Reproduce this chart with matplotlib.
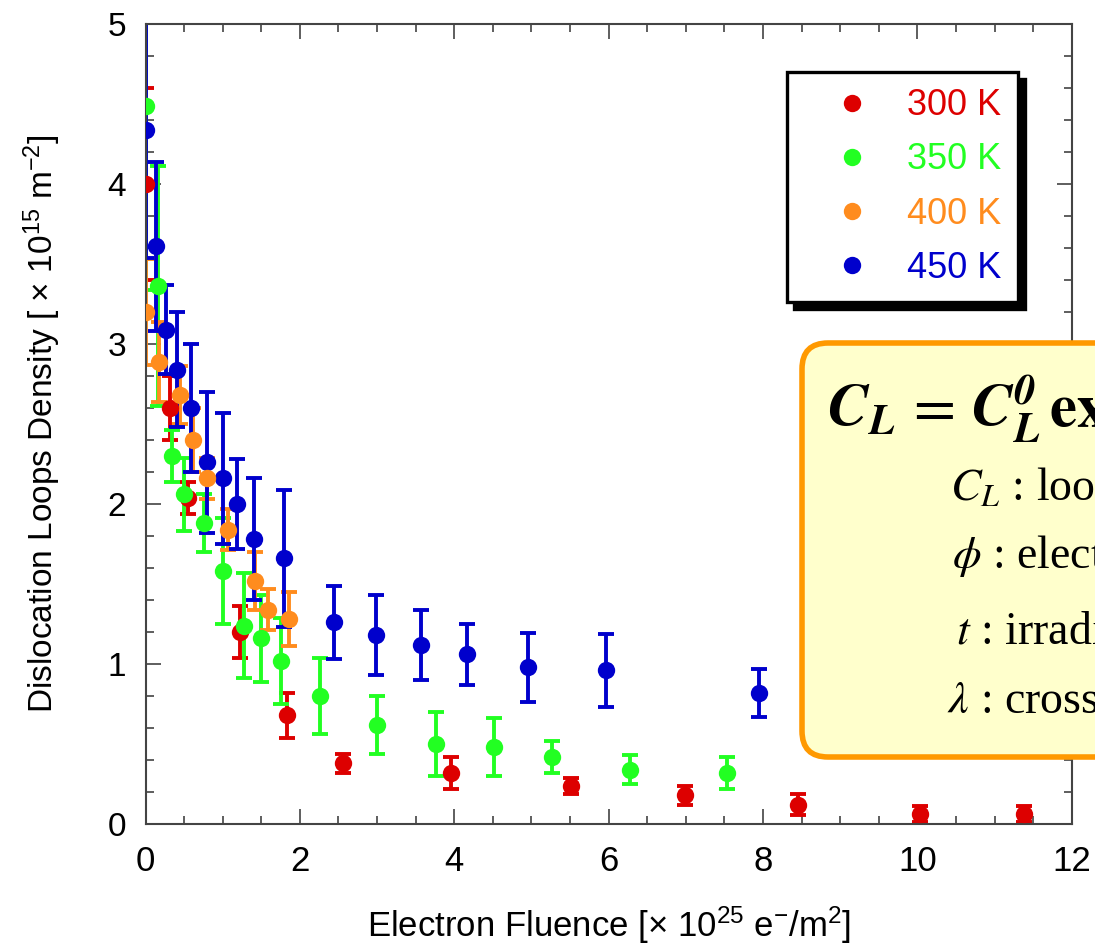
import matplotlib
matplotlib.use("Agg")
import matplotlib.pyplot as plt
from matplotlib.lines import Line2D
from matplotlib.patches import FancyBboxPatch
from matplotlib.ticker import MultipleLocator

# ---- data: electron fluence [x1e25 e-/m2], loop density [x1e15 m-2], error ----
x_300 = [0, 0.32, 0.55, 1.22, 1.83, 2.56, 3.96, 5.51, 6.99, 8.45, 10.04, 11.38]
y_300 = [4.00, 2.60, 2.04, 1.20, 0.68, 0.38, 0.32, 0.24, 0.18, 0.12, 0.06, 0.06]
e_300 = [0.60, 0.20, 0.10, 0.16, 0.14, 0.06, 0.10, 0.05, 0.06, 0.065, 0.05, 0.05]

x_350 = [0, 0.16, 0.34, 0.50, 0.76, 1.00, 1.27, 1.50, 1.76, 2.26, 3.00, 3.76, 4.52, 5.27, 6.28, 7.53]
y_350 = [4.49, 3.36, 2.30, 2.06, 1.88, 1.58, 1.24, 1.16, 1.02, 0.80, 0.62, 0.50, 0.48, 0.42, 0.34, 0.32]
e_350 = [1.15, 0.75, 0.16, 0.23, 0.18, 0.33, 0.33, 0.27, 0.27, 0.24, 0.18, 0.20, 0.18, 0.10, 0.09, 0.10]

x_400 = [0, 0.18, 0.45, 0.62, 0.80, 1.07, 1.42, 1.59, 1.86]
y_400 = [3.20, 2.89, 2.68, 2.40, 2.16, 1.84, 1.52, 1.34, 1.28]
e_400 = [0.33, 0.25, 0.18, 0.20, 0.13, 0.13, 0.18, 0.13, 0.17]

x_450 = [0, 0.13, 0.26, 0.41, 0.59, 0.80, 1.00, 1.19, 1.40, 1.79, 2.44, 2.98, 3.57, 4.17, 4.96, 5.96, 7.95]
y_450 = [4.34, 3.61, 3.09, 2.84, 2.60, 2.26, 2.16, 2.00, 1.78, 1.66, 1.26, 1.18, 1.12, 1.06, 0.98, 0.96, 0.82]
e_450 = [0.80, 0.53, 0.28, 0.36, 0.40, 0.44, 0.41, 0.28, 0.38, 0.43, 0.23, 0.25, 0.22, 0.19, 0.215, 0.23, 0.15]

labels = ["300 K", "350 K", "400 K", "450 K"]
colors = ["#DD0000", "#22FF22", "#FF8C1E", "#0000CC"]

legend_lines = [
    r"$C_{L}$ : loop density",
    r"$\phi$ : electron flux",
    r"$t$ : irradiation time",
    r"$\lambda$ : cross section",
]

plt.rcParams["font.family"] = ["Liberation Sans", "DejaVu Sans"]
plt.rcParams["mathtext.fontset"] = "custom"
plt.rcParams["mathtext.rm"] = "Liberation Sans"
plt.rcParams["mathtext.sf"] = "Liberation Sans"
plt.rcParams["mathtext.it"] = "Liberation Sans:italic"

W, H = 1095, 948
fig = plt.figure(figsize=(W / 100, H / 100), dpi=100)
ax = fig.add_axes([145.5 / W, 1 - 824 / H, (1071.7 - 145.5) / W, (824 - 24) / H])

series = [(x_300, y_300, e_300), (x_350, y_350, e_350),
          (x_400, y_400, e_400), (x_450, y_450, e_450)]

# error bars underneath, markers on top
for (xs, ys, es), c in zip(series, colors):
    ax.errorbar(xs, ys, yerr=es, fmt="none", ecolor=c, elinewidth=2.8,
                capsize=5.5, capthick=2.8, zorder=2)
for i in [3, 0, 2, 1]:
    xs, ys, es = series[i]
    ax.plot(xs, ys, "o", color=colors[i], ms=12.5, mec="none", zorder=3)

ax.set_xlim(0, 12)
ax.set_ylim(0, 5)
ax.xaxis.set_major_locator(MultipleLocator(2))
ax.xaxis.set_minor_locator(MultipleLocator(0.5))
ax.yaxis.set_major_locator(MultipleLocator(1))
ax.yaxis.set_minor_locator(MultipleLocator(0.2))
ax.tick_params(which="both", direction="in", top=True, right=True,
               color="#333333", width=1.1)
ax.tick_params(which="major", length=10.8)
ax.tick_params(which="minor", length=5.8)
ax.tick_params(axis="x", labelsize=25, pad=15)
ax.tick_params(axis="y", labelsize=24, pad=14)
for s in ax.spines.values():
    s.set_color("#444444")
    s.set_linewidth(1.5)

ax.set_xlabel("Electron Fluence [× 10$^{\\mathsf{25}}$ e$^{\\mathsf{-}}$/m$^{\\mathsf{2}}$]",
              fontsize=25, labelpad=19)
ax.set_ylabel("Dislocation Loops Density [ × 10$^{\\mathsf{15}}$ m$^{\\mathsf{-2}}$]",
              fontsize=24, labelpad=32)

handles = [Line2D([], [], ls="none", marker="o", color=c, ms=12.5, mec="none")
           for c in colors]
leg = ax.legend(handles, labels, loc="upper right",
                bbox_to_anchor=((1018 - 145.5) / 926.2, (824 - 72) / 800),
                fontsize=26, labelcolor=colors, frameon=True, fancybox=False,
                borderpad=0.45, handlelength=2.67, handletextpad=0.2,
                labelspacing=0.53, borderaxespad=0,
                shadow={"ox": 5, "oy": -5, "shade": 1.0, "alpha": 1.0})
leg.get_frame().set_edgecolor("black")
leg.get_frame().set_linewidth(2.4)
leg.get_frame().set_alpha(1)
leg.set_zorder(5)

# formula box drawn in figure pixels, running past the right edge
box = FancyBboxPatch((802, H - 757), 600, 757 - 343,
                     boxstyle="round,pad=0,rounding_size=26",
                     transform=None, facecolor="#FFFFCC", edgecolor="#FF9900",
                     linewidth=4.0, zorder=10)
fig.patches.append(box)

fig.text(827 / W, 1 - 427 / H,
         r"$\mathbfit{C}_{\mathbfit{L}}\,=\,\mathbfit{C}_{\mathbfit{L}}^{\mathbfit{0}}\,\mathbf{exp}(-\mathbfit{\lambda\phi t})$",
         fontsize=44, math_fontfamily="stix", va="baseline", ha="left", zorder=11)

line_x = [950, 952, 956, 947]
line_y = [500, 568, 643, 713]
for txt, lx, ly in zip(legend_lines, line_x, line_y):
    fig.text(lx / W, 1 - ly / H, txt, fontsize=33, family="Liberation Serif",
             math_fontfamily="stix", va="baseline", ha="left", zorder=11)

fig.savefig("out.png", dpi=100)
